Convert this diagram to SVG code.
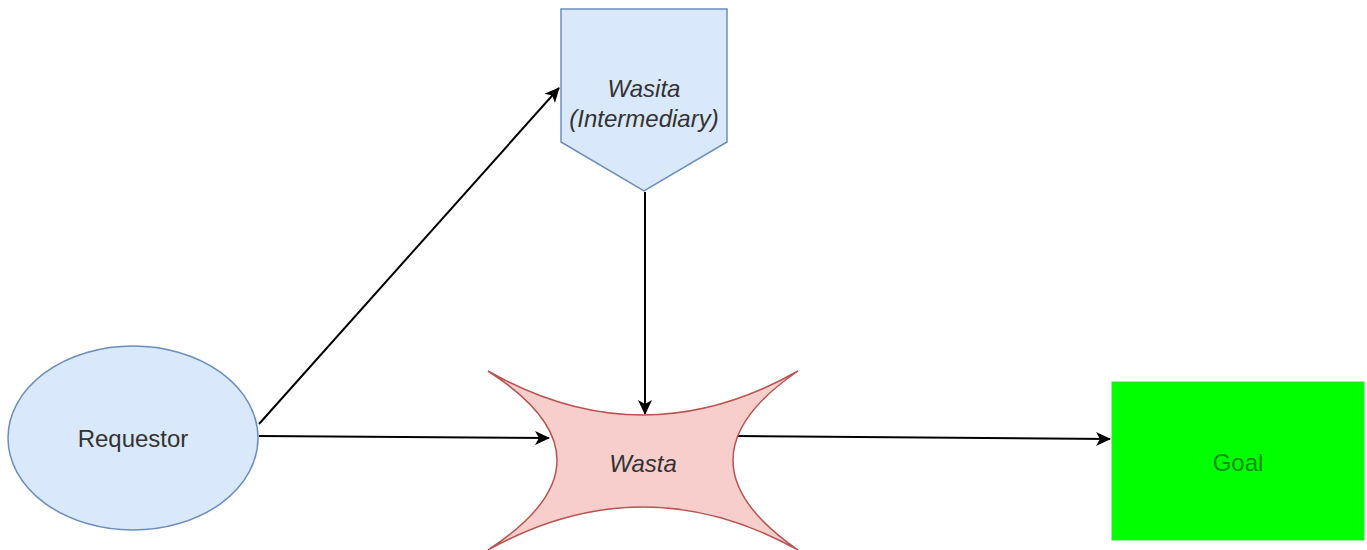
<svg xmlns="http://www.w3.org/2000/svg" width="1367" height="550" viewBox="0 0 1367 550">
<style>
.lbl{font-family:"Liberation Sans",Arial,sans-serif;font-size:24px;fill:#333;text-anchor:middle;dominant-baseline:central}
.it{font-style:italic}
.edge{stroke:#000;stroke-width:2;fill:none;marker-end:url(#arr)}
</style>
<defs>
<marker id="arr" markerWidth="18" markerHeight="18" refX="15" refY="9" orient="auto" markerUnits="userSpaceOnUse">
<path d="M1,2 L16,9 L1,16 L5,9 Z" fill="#000"/>
</marker>
</defs>
<rect width="1367" height="550" fill="#fff"/>
<g id="connectors">
<line class="edge" x1="259" y1="424" x2="559" y2="88"/>
<line class="edge" x1="259" y1="436" x2="549" y2="438"/>
<line class="edge" x1="645" y1="192" x2="645" y2="414"/>
<line class="edge" x1="737" y1="436" x2="1110" y2="439"/>
</g>
<g id="wasita">
<path d="M561,9 L727,9 L727,142 L644,191 L561,142 Z" fill="#dae8fc" stroke="#6c8ebf" stroke-width="1.5"/>
<text class="lbl it" x="644" y="88">Wasita</text>
<text class="lbl it" x="644" y="118">(Intermediary)</text>
</g>
<g id="wasta">
<path d="M488,371 Q643,459 798,371 Q668,460 798,550 Q643,464 488,550 Q626,460 488,371 Z" fill="#f8cecc" stroke="#b85450" stroke-width="1.5"/>
<text class="lbl it" x="643" y="463">Wasta</text>
</g>
<g id="requestor">
<ellipse cx="133" cy="438" rx="125" ry="92" fill="#dae8fc" stroke="#6c8ebf" stroke-width="1.5"/>
<text class="lbl" x="133" y="438">Requestor</text>
</g>
<g id="goal">
<rect x="1112" y="382" width="252" height="158" fill="#00ff00" stroke="#33e033" stroke-width="1"/>
<text class="lbl" x="1238" y="462" style="fill:#0a8f0a">Goal</text>
</g>
</svg>
